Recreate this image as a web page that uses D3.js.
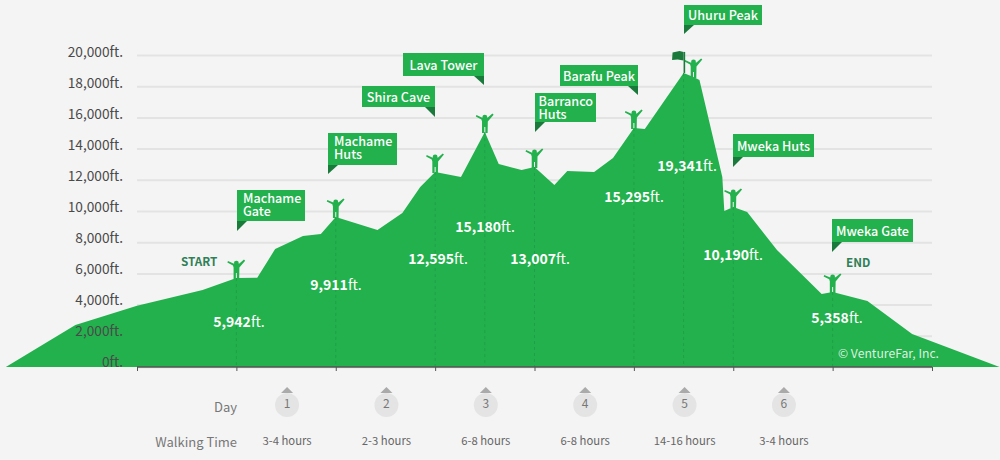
<!DOCTYPE html>
<html>
<head>
<meta charset="utf-8">
<script src="https://cdnjs.cloudflare.com/ajax/libs/d3/7.8.5/d3.min.js"></script>
<style>
  html, body { margin: 0; padding: 0; background: #f4f4f4; }
  svg { display: block; }
  text { font-family: "Noto Sans CJK SC", "Noto Sans", sans-serif; }
</style>
</head>
<body>
<div id="chart"></div>
<script>
// elevation profile (x is in trek days)
var profileDays = [-1.32, -0.62, 0, 0.66, 1, 1.21, 1.39, 1.67, 1.85, 2, 2.42, 2.67, 2.85, 3, 3.26, 3.5, 3.64, 3.87, 4, 4.2, 4.33, 4.6, 4.79, 5, 5.11, 5.5, 5.6, 5.66, 5.89, 5.91, 6, 6.14, 6.44, 6.89, 7, 7.35, 7.8, 8.68];
var profileFeet = [0, 2690, 3930, 4940, 5700, 5720, 7560, 8400, 8530, 9620, 8780, 9870, 11540, 12500, 12180, 15060, 13010, 12630, 12820, 11670, 12560, 12500, 13400, 15320, 15260, 18850, 18590, 18400, 12180, 10000, 10260, 9940, 7500, 4680, 4810, 4230, 2120, 0];

var campNames = ["Machame Gate", "Machame Huts", "Shira Cave", "Lava Tower", "Barranco Huts", "Barafu Peak", "Uhuru Peak", "Mweka Huts", "Mweka Gate"];
var campDays = [1, 2, 3, 3.5, 4, 5, 5.5, 6, 7];
var campFeet = [5942, 9911, 12595, 15180, 13007, 15295, 19341, 10190, 5358];

var yTicks = [0, 2000, 4000, 6000, 8000, 10000, 12000, 14000, 16000, 18000, 20000];
var dayNumbers = [1, 2, 3, 4, 5, 6];
var walkingTimes = ["3-4 hours", "2-3 hours", "6-8 hours", "6-8 hours", "14-16 hours", "3-4 hours"];

var width = 1000, height = 460;
var green = "#23b14d", darkGreen = "#1a7a3c", labelGreen = "#2f7f57";

var x = d3.scaleLinear().domain([0, 8]).range([137, 932]);
var y = d3.scaleLinear().domain([0, 20000]).range([367, 55]);

var svg = d3.select("#chart").append("svg")
    .attr("width", width)
    .attr("height", height);

// grid lines
var grid = d3.axisLeft(y)
    .tickValues(yTicks)
    .tickSize(-(x(8) - x(0)))
    .tickFormat("");

var gridG = svg.append("g")
    .attr("transform", "translate(" + x(0) + ",0)")
    .call(grid);
gridG.select(".domain").remove();
gridG.selectAll("line").attr("stroke", "#e3e3e3").attr("stroke-width", 2);

// the mountain
var area = d3.area()
    .x(function(d) { return x(d); })
    .y0(y(0))
    .y1(function(d, i) { return y(profileFeet[i]); });

svg.append("path")
    .attr("d", area(profileDays))
    .attr("fill", green);

function surface(day) {
  return profileFeet[profileDays.indexOf(day)];
}

// y labels go over the mountain
var yAxis = d3.axisLeft(y)
    .tickValues(yTicks)
    .tickSize(0)
    .tickPadding(14)
    .tickFormat(function(d) { return d3.format(",")(d) + "ft."; });

var yG = svg.append("g")
    .attr("transform", "translate(" + x(0) + ",0)")
    .call(yAxis);
yG.select(".domain").remove();
yG.selectAll("text")
    .attr("fill", "#4a4a4a")
    .attr("font-size", 13.7)
    .attr("dy", function(d) { return -3 - 2 * (1 - d / 20000) + 4; });

// dashed drop lines
svg.selectAll(".drop")
    .data(campDays)
  .enter().append("line")
    .attr("x1", function(d) { return x(d); })
    .attr("x2", function(d) { return x(d); })
    .attr("y1", function(d) { return y(surface(d)); })
    .attr("y2", y(0))
    .attr("stroke", "#1fa046")
    .attr("stroke-width", 1)
    .attr("stroke-dasharray", "3,3");

// x axis
var xAxis = d3.axisBottom(x)
    .tickValues(d3.range(0, 9))
    .tickSize(4)
    .tickFormat("");
var xG = svg.append("g")
    .attr("transform", "translate(0," + y(0) + ")")
    .call(xAxis);
xG.select(".domain").remove();
xG.selectAll("line").attr("stroke", "#555");
xG.append("line")
    .attr("x1", x(0)).attr("x2", x(8))
    .attr("stroke", "#555").attr("stroke-width", 1.5);

// hikers
var hikerDays = [1, 2, 3, 3.5, 4, 5, 5.6, 6, 7];
function hiker(g) {
  g.append("circle").attr("cx", 0).attr("cy", -16).attr("r", 2.4).attr("fill", green);
  g.append("path")
    .attr("d", "M-9,-16.5L-8.4,-18L-3,-15.6L3,-15.6L7.6,-19.5L8.8,-18.4L3,-11.5L2.8,0L0.5,0L0.5,-6L-0.5,-6L-0.5,0L-2.8,0L-2.8,-11.5L-3.4,-13.6Z")
    .attr("fill", green);
}
hikerDays.forEach(function(d) {
  svg.append("g")
      .attr("transform", "translate(" + x(d) + "," + (y(surface(d)) + 1) + ")")
      .call(hiker);
});

// summit flag
var flag = svg.append("g")
    .attr("transform", "translate(" + x(5.5) + "," + y(surface(5.5)) + ")");
flag.append("rect").attr("x", 0).attr("y", -21).attr("width", 1.6).attr("height", 21).attr("fill", darkGreen);
flag.append("path").attr("d", "M0,-21L-4,-22L-11,-20.5L-11.5,-13L-6,-13.5L0,-12.5Z").attr("fill", darkGreen);

// callouts: box left, top, right, bottom and tail tip, one per camp
var calloutBoxes = [
  [237, 190, 305, 221, 231, "left"],
  [328, 133, 397, 165, 174, "left"],
  [362, 86, 435, 107, 117, "right"],
  [403, 53, 484, 76, 85, "right"],
  [535, 93, 596, 122, 132, "left"],
  [560, 65, 638, 86, 95, "right"],
  [684, 5, 762, 25, 34, "left"],
  [733, 134, 814, 157, 167, "left"],
  [832, 219, 913, 242, 252, "left"]
];
var twoLine = { "Machame Gate": ["Machame", "Gate"], "Machame Huts": ["Machame", "Huts"], "Barranco Huts": ["Barranco", "Huts"] };

calloutBoxes.forEach(function(b, i) {
  var g = svg.append("g");
  g.append("rect")
      .attr("x", b[0]).attr("y", b[1])
      .attr("width", b[2] - b[0]).attr("height", b[3] - b[1])
      .attr("fill", green);
  var tail = b[5] == "left"
    ? [[b[0], b[3]], [b[0] + 10, b[3]], [b[0], b[4]]]
    : [[b[2], b[3]], [b[2] - 10, b[3]], [b[2], b[4]]];
  g.append("path")
      .attr("d", d3.line()(tail) + "Z")
      .attr("fill", darkGreen);

  var lines = twoLine[campNames[i]];
  if (lines) {
    var inset = campNames[i] == "Barranco Huts" ? 3.5 : 6;
    var label = g.append("text")
        .attr("y", b[1] + 13)
        .attr("fill", "#fff").attr("font-size", 12.6).attr("font-weight", 500);
    lines.forEach(function(t, j) {
      label.append("tspan")
          .attr("x", b[0] + inset)
          .attr("dy", j ? 13 : 0)
          .text(t);
    });
  } else {
    g.append("text")
        .attr("x", (b[0] + b[2]) / 2)
        .attr("y", (b[1] + b[3]) / 2 + 5)
        .attr("text-anchor", "middle")
        .attr("fill", "#fff").attr("font-size", 12.6).attr("font-weight", 500)
        .text(campNames[i]);
  }
});

// elevation labels inside the mountain
var elevLabelPos = [[239, 322], [336, 285], [438, 259], [485, 227], [540, 259], [634, 197], [687, 166], [733, 255], [837, 318]];
campFeet.forEach(function(f, i) {
  var t = svg.append("text")
      .attr("x", elevLabelPos[i][0])
      .attr("y", elevLabelPos[i][1] + 5)
      .attr("text-anchor", "middle")
      .attr("fill", "#fff")
      .attr("font-size", 14);
  t.append("tspan").attr("font-weight", 700).text(d3.format(",")(f));
  t.append("tspan").text("ft.");
});

svg.append("text").attr("x", 181).attr("y", 266)
    .attr("fill", labelGreen).attr("font-size", 11.7).attr("font-weight", 700).text("START");
svg.append("text").attr("x", 846).attr("y", 267)
    .attr("fill", labelGreen).attr("font-size", 11.7).attr("font-weight", 700).text("END");

svg.append("text").attr("x", 838).attr("y", 358)
    .attr("fill", "#fff").attr("fill-opacity", 0.85).attr("font-size", 12.2).text("© VentureFar, Inc.");

// day row and walking time row
svg.append("text").attr("x", 237).attr("y", 412)
    .attr("text-anchor", "end").attr("fill", "#777").attr("font-size", 13).text("Day");
svg.append("text").attr("x", 237).attr("y", 447)
    .attr("text-anchor", "end").attr("fill", "#777").attr("font-size", 13).text("Walking Time");

dayNumbers.forEach(function(d, i) {
  var cx = x(d + 0.5) + 1;
  svg.append("path")
      .attr("d", d3.line()([[cx, 387], [cx + 6, 393], [cx - 6, 393]]) + "Z")
      .attr("fill", "#aaa");
  svg.append("circle").attr("cx", cx).attr("cy", 405).attr("r", 12).attr("fill", "#e4e4e4");
  svg.append("text").attr("x", cx).attr("y", 408)
      .attr("text-anchor", "middle").attr("fill", "#777").attr("font-size", 12).text(d);
  svg.append("text").attr("x", cx).attr("y", 445)
      .attr("text-anchor", "middle").attr("fill", "#666").attr("font-size", 11.3).text(walkingTimes[i]);
});
</script>
</body>
</html>
